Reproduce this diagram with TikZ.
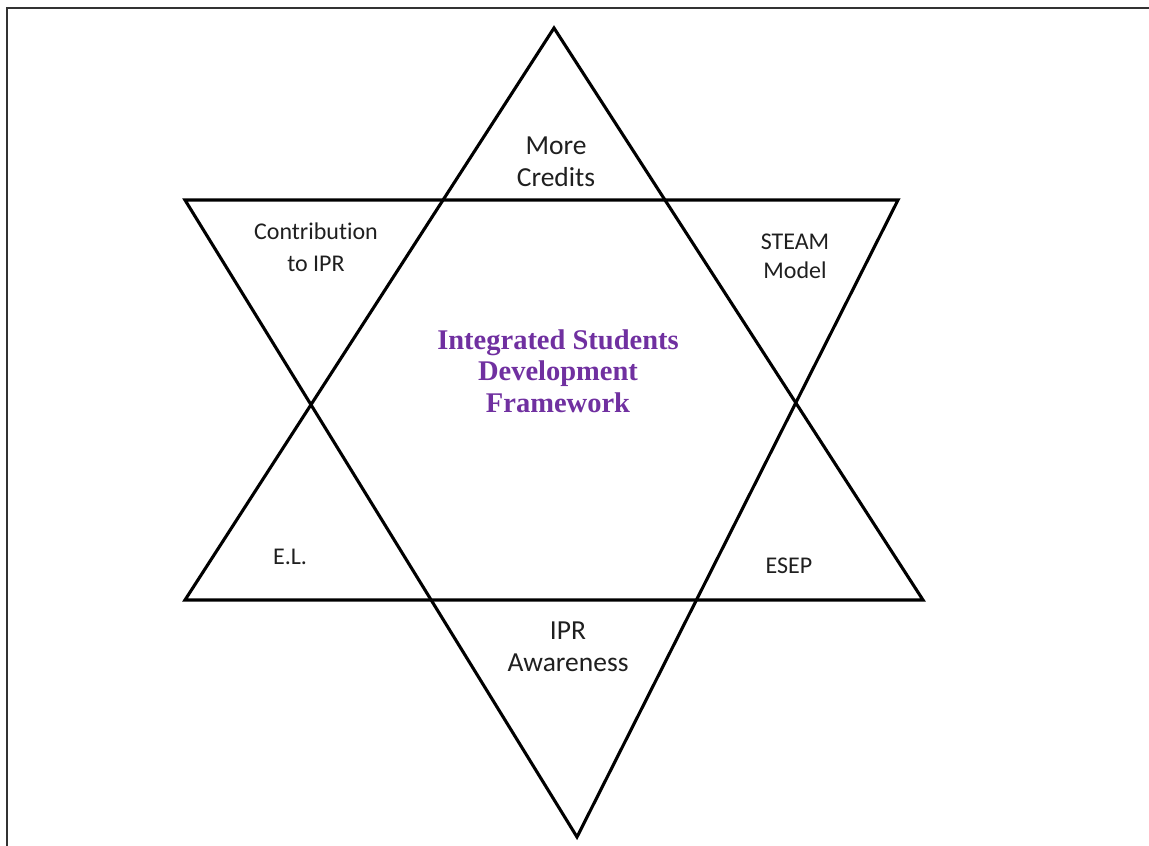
\documentclass[tikz,border=0pt]{standalone}
\usepackage{fontspec}
\setmainfont{Carlito}[Ligatures=NoCommon]
\newfontfamily\titlefont{Liberation Serif}
\usepackage{tikz}
\usetikzlibrary{positioning}
\definecolor{framepurple}{RGB}{112,48,160}

\begin{document}
\begin{tikzpicture}[
                x=1pt, y=-1pt,
                % Define styles for shapes and labels
                star line/.style={draw=black, line width=3.1pt, line join=miter},
                frame line/.style={draw=black!80, line width=2.4pt},
                corner label/.style={align=center, font=\fontsize{27.5}{32}\selectfont, text=black!88},
                small label/.style={align=center, font=\fontsize{24}{32}\selectfont, text=black!88},
                title label/.style={align=center, font=\titlefont\bfseries\fontsize{28.5}{31.5}\selectfont, text=framepurple}
            ]
                \useasboundingbox (0,0) rectangle (1149,846);
                \clip (0,0) rectangle (1149,846);

                % Outer frame
                \draw[frame line] (7,8) rectangle (1170,870);

                % Define corners of the two triangles
                \coordinate (U1) at (554,28);
                \coordinate (U2) at (185,600);
                \coordinate (U3) at (923,600);

                \coordinate (D1) at (185,200);
                \coordinate (D2) at (898,200);
                \coordinate (D3) at (577,837);

                % Draw the triangles
                \draw[star line] (U1) -- (U2) -- (U3) -- cycle;
                \draw[star line] (D1) -- (D2) -- (D3) -- cycle;

                % Define labels
                \node[title label] (T) at (558,371) {Integrated Students\\Development\\Framework};

                \node[corner label] (MC) at (556,162) {More\\Credits};
                \node[small label] (CI) at (316,247) {Contribution\\to IPR};
                \node[small label, font=\fontsize{24}{29}\selectfont] (SM) at (795,256) {STEAM\\Model};
                \node[small label] (EL) at (290,557) {E.L.};
                \node[small label] (ES) at (789,566) {ESEP};
                \node[corner label] (IA) at (568,647) {IPR\\Awareness};
            \end{tikzpicture}
\end{document}
